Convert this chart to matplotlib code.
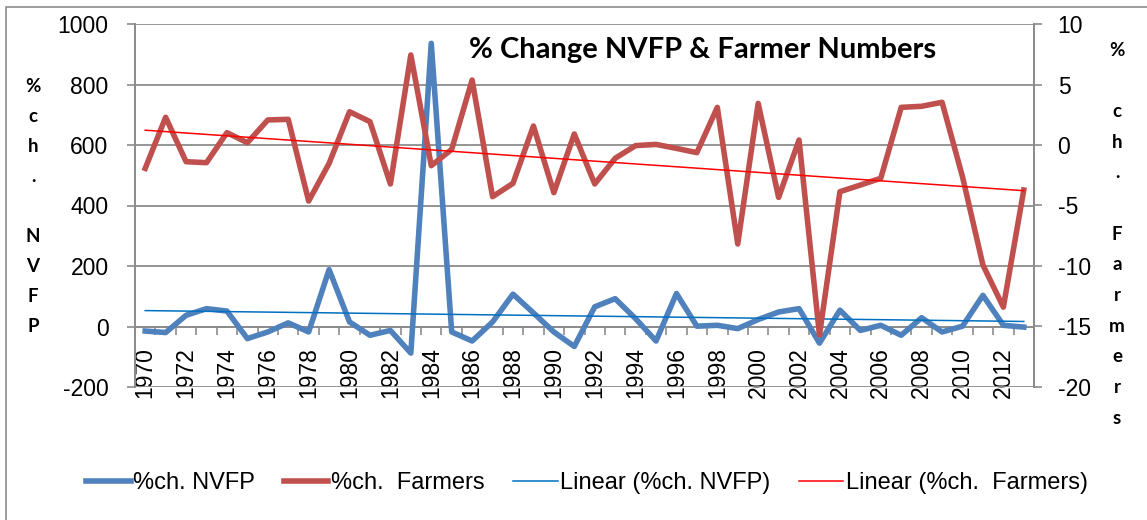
import numpy as np
import matplotlib
matplotlib.use("Agg")
import matplotlib.pyplot as plt
from matplotlib.lines import Line2D
from matplotlib.patches import Rectangle

years = list(range(1970, 2014))
nvfp = [-15, -20, 37, 59, 51, -40, -18, 12, -18, 188,
        15, -29, -13, -88, 936, -18, -48, 15, 107, 45,
        -18, -66, 65, 92, 26, -48, 109, 1, 4, -7,
        23, 48, 59, -55, 54, -13, 4, -29, 29, -18,
        1, 103, 4, -2]
farmers = [-1.93, 2.29, -1.38, -1.46, 1.02, 0.19, 2.07, 2.12, -4.63, -1.52,
           2.75, 1.93, -3.22, 7.44, -1.71, -0.36, 5.37, -4.27, -3.17, 1.57,
           -3.94, 0.91, -3.22, -1.10, -0.05, 0.05, -0.28, -0.63, 3.11, -8.18,
           3.44, -4.33, 0.41, -15.7, -3.86, -3.31, -2.75, 3.11, 3.2, 3.53,
           -2.62, -9.92, -13.4, -3.72]
label_years = list(range(1970, 2014, 2))
left_ticks = [-200, 0, 200, 400, 600, 800, 1000]
right_ticks = [-20, -15, -10, -5, 0, 5, 10]
title = "% Change NVFP & Farmer Numbers"
series_names = ["%ch. NVFP", "%ch.  Farmers", "Linear (%ch. NVFP)", "Linear (%ch.  Farmers)"]

W, H = 1147, 520
DPI = 100
FONT = "Liberation Sans"
BOLD = "Lato"
GRID = "#8c8c8c"
BLUE = "#4F81BD"
RED = "#C0504D"
TBLUE = "#0070C0"
TRED = "#FF0000"

fig = plt.figure(figsize=(W / DPI, H / DPI), dpi=DPI)

def fx(px):
    return px / W

def fy(py):
    return 1 - py / H

# chart frame
fig.patches.append(Rectangle((fx(6), -0.2), 1.2, fy(7) + 0.2, transform=fig.transFigure,
                             fill=False, edgecolor=GRID, linewidth=1.2))

ax = fig.add_axes([fx(135), fy(387), fx(1034) - fx(135), fy(24) - fy(387)])
ax2 = ax.twinx()

x = np.array(years, dtype=float)
ax.plot(x, nvfp, color=BLUE, lw=4.0, zorder=3)
c1 = np.polyfit(x, nvfp, 1)
ax.plot(x, np.polyval(c1, x), color=TBLUE, lw=1.1, zorder=4)

ax2.plot(x, farmers, color=RED, lw=4.0, zorder=3)
c2 = np.polyfit(x, farmers, 1)
ax2.plot(x, np.polyval(c2, x), color=TRED, lw=1.1, zorder=4)

ax.set_xlim(1969.5, 2013.5)
ax.set_ylim(-200, 1000)
ax2.set_ylim(-20, 10)

ax.set_yticks(left_ticks)
ax.set_yticklabels([str(v) for v in left_ticks], fontsize=16.5, family=FONT)
ax2.set_yticks(right_ticks)
ax2.set_yticklabels([str(v) for v in right_ticks], fontsize=16.5, family=FONT)
ax.yaxis.grid(True, color=GRID, lw=1.3)
ax.set_axisbelow(True)

ax.tick_params(axis="y", length=6, color=GRID, pad=13, width=1.2)
ax2.tick_params(axis="y", length=6, color=GRID, pad=11, width=1.2)

# x axis at zero
ax.spines["bottom"].set_position(("data", 0))
ax.spines["bottom"].set_color(GRID)
ax.spines["bottom"].set_linewidth(1.3)
ax.set_xticks(np.arange(1969.5, 2014.0, 1.0))
ax.set_xticklabels([])
ax.tick_params(axis="x", which="major", length=6, color=GRID, width=1.2, direction="out")
ax.set_xticks(label_years, minor=True)
ax.set_xticklabels([str(v) for v in label_years], minor=True, rotation=90,
                   fontsize=16.5, family=FONT, va="top")
ax.tick_params(axis="x", which="minor", length=0, pad=15)

for a in (ax, ax2):
    a.spines["top"].set_visible(False)
    a.spines["left"].set_color(GRID)
    a.spines["right"].set_color(GRID)
    a.spines["left"].set_linewidth(1.3)
    a.spines["right"].set_linewidth(1.3)
ax2.spines["bottom"].set_visible(False)
ax.patch.set_visible(False)

# title
ax.text(fx(703), fy(50), title, transform=fig.transFigure, ha="center", va="center",
        fontsize=21, fontweight="bold", family=BOLD)

# stacked axis labels
left_chars = ["%", "c", "h", ".", "", "N", "V", "F", "P"]
for i, ch in enumerate(left_chars):
    fig.text(fx(33), fy(87 + 30 * i), ch, ha="center", va="center",
             fontsize=13.5, fontweight="bold", family=BOLD)
right_chars = ["%", "", "c", "h", ".", "", "F", "a", "r", "m", "e", "r", "s"]
for i, ch in enumerate(right_chars):
    fig.text(fx(1117), fy(50 + 30.7 * i), ch, ha="center", va="center",
             fontsize=13.5, fontweight="bold", family=BOLD)

handles = [Line2D([], [], color=BLUE, lw=4.0),
           Line2D([], [], color=RED, lw=4.0),
           Line2D([], [], color=TBLUE, lw=1.1),
           Line2D([], [], color=TRED, lw=1.1)]
fig.legend(handles, series_names, loc="center", bbox_to_anchor=(fx(587), fy(483)),
           ncol=4, frameon=False, handlelength=1.9, handletextpad=0.1,
           columnspacing=1.2, prop={"family": FONT, "size": 17})

fig.savefig("out.png", dpi=DPI)
